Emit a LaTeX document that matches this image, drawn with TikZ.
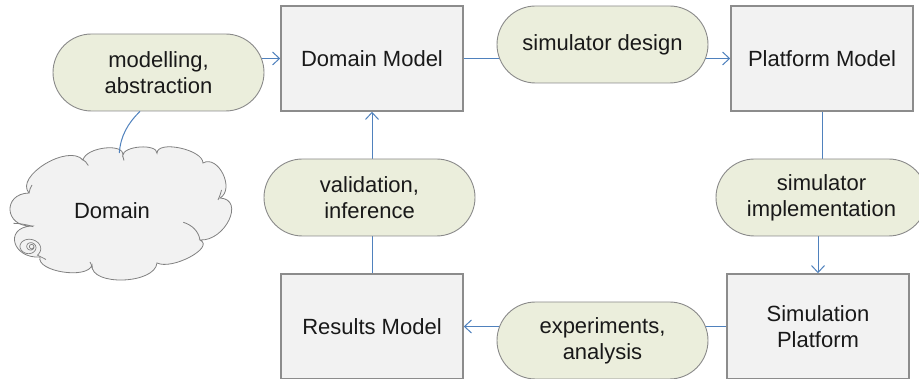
\documentclass[tikz,border=0pt]{standalone}
\usepackage{fontspec}
\setmainfont{Liberation Sans}
\usetikzlibrary{arrows.meta,calc}

\definecolor{boxfill}{HTML}{F2F2F2}
\definecolor{boxline}{HTML}{8C8C8C}
\definecolor{pillfill}{HTML}{EBEEDC}
\definecolor{pillline}{HTML}{8A8A8A}
\definecolor{linkblue}{HTML}{4F81BD}
\definecolor{cloudline}{HTML}{808080}

\pgfdeclarelayer{background}
\pgfsetlayers{background,main}

\begin{document}
\begin{tikzpicture}[x=1pt,y=-1pt,
  every node/.style={font=\fontsize{22}{26}\selectfont, text=black!90, align=center, inner sep=0pt},
  modelbox/.style={draw=boxline, fill=boxfill, line width=1.5pt, minimum width=182pt, minimum height=105pt},
  activity/.style={draw=pillline, fill=pillfill, line width=0.9pt, rounded corners=38.5pt, minimum width=211pt, minimum height=77pt},
  conn/.style={draw=linkblue, line width=1pt},
  flow/.style={conn, -{Straight Barb[length=7pt,width=13pt]}},
  cloudstroke/.style={draw=cloudline, line width=0.8pt}
]
\useasboundingbox (0,0) rectangle (919,379);
\clip (0,0) rectangle (919,379);

% models
\node[modelbox] (DM) at (372,58.5) {Domain Model};
\node[modelbox] (PM) at (822,58.5) {Platform Model};
\node[modelbox] (SP) at (818,326.5) {Simulation\\Platform};
\node[modelbox] (RM) at (372,326.5) {Results Model};

% activities
\node[activity] (MA) at (158.5,72.5) {modelling,\\abstraction};
\node[activity] (SD) at (602.5,44.5) {simulator design};
\node[activity] (SI) at (821.5,197.5) {simulator\\implementation};
\node[activity] (VI) at (369.5,197.5) {validation,\\inference};
\node[activity] (EA) at (602.5,340.5) {experiments,\\analysis};

% the domain cloud
\filldraw[fill=boxfill, cloudstroke]
  (29,193) .. controls (14.33,176.33) and (68.33,143.33) .. (83,160)
  .. controls (85.87,146.87) and (125.57,142.57) .. (122.7,155.7)
  .. controls (122.9,145.7) and (157.2,143.3) .. (157,153.3)
  .. controls (157,139.77) and (203,149.47) .. (203,163)
  .. controls (218.33,154.33) and (235.33,189.33) .. (220,198)
  .. controls (245.33,199.33) and (225.33,241.33) .. (200,240)
  .. controls (215.33,247.33) and (172.33,270.33) .. (157,263)
  .. controls (155,284.33) and (90,286.33) .. (92,265)
  .. controls (88,279.67) and (36,271.67) .. (40,257)
  .. controls (12.67,259) and (3.67,228) .. (31,226)
  .. controls (4.33,226.67) and (2.33,193.67) .. (29,193) -- cycle;
% inner folds of the cloud
\draw[cloudstroke] (81.7,159) .. controls (84.5,160.5) and (87,162.5) .. (88.3,165.5);
\draw[cloudstroke] (122.7,155.7) .. controls (123.2,157.2) and (123.6,158.6) .. (124,160.5);
\draw[cloudstroke] (183.3,222.3) .. controls (192,225) and (198.5,231) .. (200,240);
\draw[cloudstroke] (13.3,223.3) .. controls (20,223.5) and (27,224.5) .. (33.3,226.7);
\draw[cloudstroke] (218,200) .. controls (219.5,197) and (220.5,194) .. (221.5,190);
\draw[cloudstroke] (90,262) .. controls (90.8,263.5) and (91.5,264.5) .. (92,268);
\draw[cloudstroke] (29,193) .. controls (29.5,190) and (30.5,187.5) .. (32,185);
% spiral at the lower left
\draw[cloudstroke, line width=0.7pt] plot[domain=0:1125, samples=260, smooth, variable=\t]
  ({31.7 - 4.2*(\t/1125)^2 + (2 + 12*(\t/1125)^2.5)*cos(\t)},
   {246.7 + 1.3*(\t/1125)^2 + (2 + 12*(\t/1125)^2.5)*(1 - 0.28*(\t/1125)^2)*sin(\t)})
  -- (46,259.5);
\node (DO) at (112,211) {Domain};
\coordinate (cloudtop) at (119.3,153);

% connectors
\begin{pgfonlayer}{background}
  \draw[flow] (DM.west -| MA.center) -- (DM.west);
  \draw[conn] (DM.east) -- (DM.east -| SD.center);
  \draw[flow] (PM.west -| SD.center) -- (PM.west);
  \draw[conn] (PM.south) -- (PM.south |- SI.center);
  \draw[flow] (SP.north |- SI.center) -- (SP.north);
  \draw[conn] (SP.west) -- (SP.west -| EA.center);
  \draw[flow] (RM.east -| EA.center) -- (RM.east);
  \draw[conn] (RM.north) -- (RM.north |- VI.center);
  \draw[flow] (DM.south |- VI.center) -- (DM.south);
\end{pgfonlayer}
\draw[conn] (cloudtop) .. controls (120.5,136) and (128,123) .. ($(MA.south)+(-18.5,0)$);
\end{tikzpicture}
\end{document}
